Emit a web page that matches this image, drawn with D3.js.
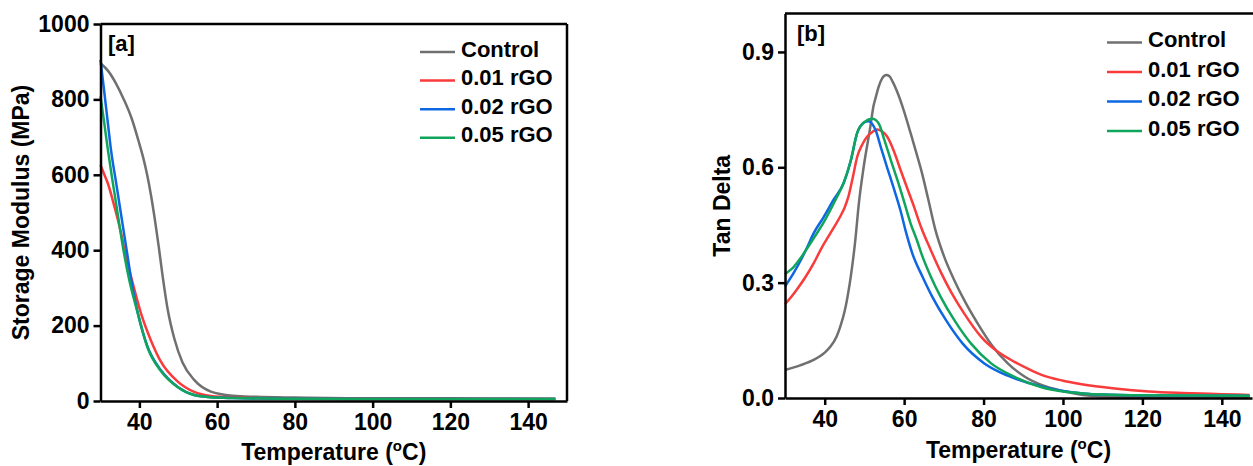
<!DOCTYPE html>
<html>
<head>
<meta charset="utf-8">
<script src="https://cdn.jsdelivr.net/npm/d3@7"></script>
<style>
body { margin: 0; background: white; }
svg text { font-family: "Liberation Sans", Arial, sans-serif; font-weight: bold; fill: black; }
</style>
</head>
<body>
<svg id="chart" width="1253" height="466"></svg>
<script>
// series names + colours
var seriesNames = ["Control", "0.01 rGO", "0.02 rGO", "0.05 rGO"];
var seriesColors = ["#707070", "#f93b3b", "#0d67e2", "#10a55c"];

// [a] storage modulus (MPa) vs temperature (C)
var modControl = [[30,896],[32,875],[34,842],[36,800],[38,750],[40,682],[41,645],[42,600],[43,545],[44,480],[45,408],[46,330],[47.3,242],[49,165],[51.1,102],[54.1,56],[58.4,25],[64,14],[70,11],[80,9],[100,7],[120,7],[147,6]];
var mod001 = [[30,626],[31,600],[31.9,577],[33.6,515],[35.3,445],[36.5,385],[37.9,328],[40.4,233],[43,160],[45.5,105],[49.8,52],[54.1,24],[58.4,13],[64,9],[80,6],[100,5],[147,5]];
var mod002 = [[30,905],[31,817],[32,728],[32.7,666],[34,580],[35,514],[36,448],[37,382],[37.9,321],[39.6,233],[42.1,144],[45.5,82],[49.8,38],[54.1,16],[58.4,10],[64,8],[80,6],[100,5],[147,5]];
var mod005 = [[30,808],[31,735],[31.9,666],[33,590],[34,525],[35,458],[36,395],[37.4,321],[39.6,233],[42.1,142],[45.5,80],[49.8,37],[54.1,16],[58.4,10],[64,8],[80,6],[100,5],[147,5]];

// [b] tan delta vs temperature (C)
var tdControl = [[30,0.073],[33.8,0.085],[37.2,0.099],[40,0.118],[41.4,0.133],[43,0.16],[43.9,0.185],[45,0.225],[45.6,0.255],[46.9,0.341],[47.7,0.41],[48.6,0.506],[49.8,0.60],[51.5,0.706],[52.3,0.76],[52.8,0.78],[53.6,0.81],[54.5,0.832],[55.5,0.84],[56.3,0.837],[57,0.825],[58.5,0.79],[60,0.745],[61.6,0.69],[63,0.64],[64.5,0.585],[66,0.52],[67.8,0.44],[70.1,0.367],[72.6,0.307],[75.1,0.255],[78.5,0.194],[81.9,0.14],[86.1,0.09],[90.3,0.056],[94.6,0.034],[100,0.018],[105,0.008],[110,0.004],[120,0.003],[147,0.003]];
var td001 = [[30,0.244],[31.5,0.262],[32.9,0.281],[35,0.312],[37.2,0.35],[39.2,0.39],[41.4,0.428],[43.9,0.472],[45,0.495],[46,0.525],[47,0.57],[48.2,0.628],[49.5,0.66],[50.7,0.68],[52,0.692],[53.2,0.698],[54.5,0.693],[55.7,0.68],[57.5,0.64],[59.1,0.593],[60.8,0.545],[62.5,0.497],[64.2,0.446],[66.7,0.385],[69.2,0.328],[71.8,0.276],[75.1,0.22],[79.4,0.159],[83.6,0.12],[87.8,0.094],[91,0.077],[94.6,0.06],[100,0.045],[104.7,0.036],[113,0.025],[121.6,0.017],[130,0.013],[140,0.01],[147,0.008]];
var td002 = [[30,0.29],[32,0.322],[33.8,0.355],[35.5,0.39],[37.2,0.428],[39.7,0.47],[42.2,0.515],[44.8,0.56],[46.5,0.615],[48.2,0.69],[49.8,0.716],[51,0.72],[52.8,0.697],[54.2,0.65],[55.7,0.60],[57.4,0.545],[59.1,0.487],[60.5,0.43],[62.1,0.375],[64.6,0.316],[67.1,0.263],[70.5,0.203],[74.7,0.142],[80.2,0.09],[86.1,0.058],[94.6,0.03],[100,0.018],[105,0.012],[110,0.009],[120,0.007],[147,0.006]];
var td005 = [[30,0.322],[31,0.33],[32.1,0.34],[33.8,0.362],[35.5,0.388],[37.5,0.42],[39.7,0.456],[42.7,0.515],[44.8,0.56],[46.5,0.615],[48.2,0.69],[50,0.718],[52,0.726],[53.6,0.714],[55,0.672],[56.6,0.62],[58.3,0.567],[60,0.51],[61.6,0.455],[63.4,0.405],[64.2,0.38],[66.7,0.316],[69.2,0.263],[72.6,0.203],[76.8,0.142],[81.9,0.09],[87.8,0.055],[94.6,0.028],[100,0.017],[105,0.012],[110,0.009],[120,0.007],[147,0.006]];

var xTicks = [40, 60, 80, 100, 120, 140];
var modTicks = [0, 200, 400, 600, 800, 1000];
var tdTicks = [0, 0.3, 0.6, 0.9];

var svg = d3.select("#chart");

function panel(opt) {
  var x = d3.scaleLinear().domain(opt.xdom).range([opt.left, opt.right]);
  var y = d3.scaleLinear().domain(opt.ydom).range([opt.bottom, opt.top]);
  var g = svg.append("g");

  var line = d3.line().x(function(d){ return x(d[0]); }).y(function(d){ return y(d[1]); }).curve(d3.curveMonotoneX);
  opt.series.forEach(function(s, i){
    g.append("path").attr("d", line(s)).attr("fill", "none")
      .attr("stroke", seriesColors[i]).attr("stroke-width", 2.5);
  });

  // frame (top / right)
  g.append("line").attr("x1", opt.left).attr("x2", opt.frameRight).attr("y1", opt.top).attr("y2", opt.top)
    .attr("stroke", "black").attr("stroke-width", 2.5);
  if (opt.drawRight) {
    g.append("line").attr("x1", opt.right).attr("x2", opt.right).attr("y1", opt.top).attr("y2", opt.bottom)
      .attr("stroke", "black").attr("stroke-width", 2.5);
  }

  var ax = g.append("g").attr("transform", "translate(0," + opt.bottom + ")")
    .call(d3.axisBottom(x).tickValues(xTicks).tickSizeInner(7).tickSizeOuter(0).tickPadding(5));
  var ay = g.append("g").attr("transform", "translate(" + opt.left + ",0)")
    .call(d3.axisLeft(y).tickValues(opt.yticks).tickFormat(opt.yfmt).tickSizeInner(7).tickSizeOuter(0).tickPadding(4));
  [ax, ay].forEach(function(a){
    a.selectAll("path,line").attr("stroke", "black").attr("stroke-width", 2.5);
    a.selectAll("text").style("font-size", "23px").style("font-weight", "bold")
      .style("font-family", "'Liberation Sans', Arial, sans-serif").attr("fill", "black");
  });
  ax.selectAll("text").attr("dy", "0.72em");

  var xt = g.append("text").attr("x", (opt.left + opt.right) / 2).attr("y", opt.xTitleY)
    .attr("text-anchor", "middle").style("font-size", "23px");
  xt.append("tspan").text("Temperature (");
  xt.append("tspan").attr("dy", -9).style("font-size", "15px").text("o");
  xt.append("tspan").attr("dy", 9).text("C)");

  g.append("text").attr("transform", "translate(" + opt.yTitleX + "," + ((opt.top + opt.bottom) / 2) + ") rotate(-90)")
    .attr("text-anchor", "middle").style("font-size", "23px").text(opt.ytitle);

  g.append("text").attr("x", opt.tagX).attr("y", opt.tagY).style("font-size", "22px").text(opt.tag);

  seriesNames.forEach(function(n, i){
    var ly = opt.legY + i * opt.legStep;
    g.append("line").attr("x1", opt.legX).attr("x2", opt.legX + 35).attr("y1", ly).attr("y2", ly)
      .attr("stroke", seriesColors[i]).attr("stroke-width", 2.5);
    g.append("text").attr("x", opt.legX + 41).attr("y", ly + 4.5).style("font-size", "22px").text(n);
  });
}

panel({
  xdom: [30, 150], ydom: [0, 1000], left: 100.5, right: 567, top: 24, bottom: 401, frameRight: 567, drawRight: true,
  series: [modControl, mod001, mod002, mod005], yticks: modTicks, yfmt: d3.format("d"),
  xTitleY: 460, yTitleX: 29, ytitle: "Storage Modulus (MPa)", tag: "[a]", tagX: 108, tagY: 51,
  legX: 420, legY: 52, legStep: 28.6
});

panel({
  xdom: [30, 147.6], ydom: [0, 1.0], left: 785, right: 1252, top: 13.5, bottom: 398, frameRight: 1253, drawRight: false,
  series: [tdControl, td001, td002, td005], yticks: tdTicks, yfmt: d3.format(".1f"),
  xTitleY: 458, yTitleX: 730, ytitle: "Tan Delta", tag: "[b]", tagX: 797, tagY: 41,
  legX: 1107, legY: 42.5, legStep: 29.5
});
</script>
</body>
</html>
